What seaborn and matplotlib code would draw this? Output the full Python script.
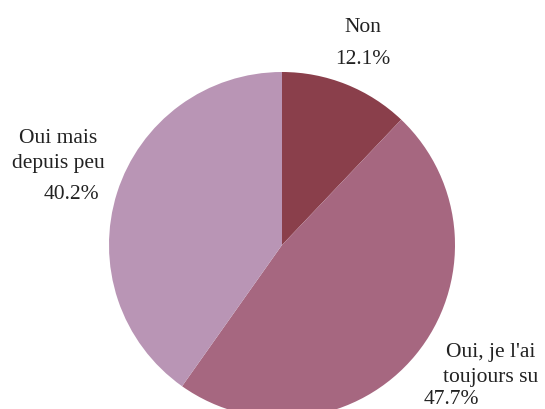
import matplotlib
matplotlib.use("Agg")
import matplotlib.pyplot as plt
import seaborn as sns

# survey answers
categories = ["Non", "Oui, je l'ai\ntoujours su", "Oui mais\ndepuis peu"]
shares = [12.1, 47.7, 40.2]
colors = ["#8A3F4B", "#A66780", "#B995B5"]

sns.set_theme(style="white")
plt.rcParams["font.family"] = ["Liberation Serif", "DejaVu Serif"]

W, H = 545, 410
fig = plt.figure(figsize=(W / 100, H / 100), dpi=100)
ax = fig.add_axes([0, 0, 1, 1])

ax.pie(shares, colors=colors, startangle=90, counterclock=False,
       wedgeprops=dict(linewidth=0))

# pie centre (282, 246) px, radius 173 px
cx, cy, r = 282, 246, 173
ax.set_xlim(-cx / r, (W - cx) / r)
ax.set_ylim(-(H - cy) / r, cy / r)
ax.set_aspect("equal")
ax.axis("off")

# label positions in pixels (name centre, pct centre)
label_pos = [((363, 28), (363, 60)),
             ((491, 365), (451, 400)),
             ((58, 151), (71, 195))]

for name, val, (lp, pp) in zip(categories, shares, label_pos):
    fig.text(lp[0] / W, 1 - lp[1] / H, name, ha="center", va="center",
             fontsize=15.5, color="#222222", linespacing=1.45)
    fig.text(pp[0] / W, 1 - pp[1] / H, f"{val:.1f}%", ha="center", va="center",
             fontsize=15.5, color="#222222")

fig.savefig("out.png", dpi=100, facecolor="white")
